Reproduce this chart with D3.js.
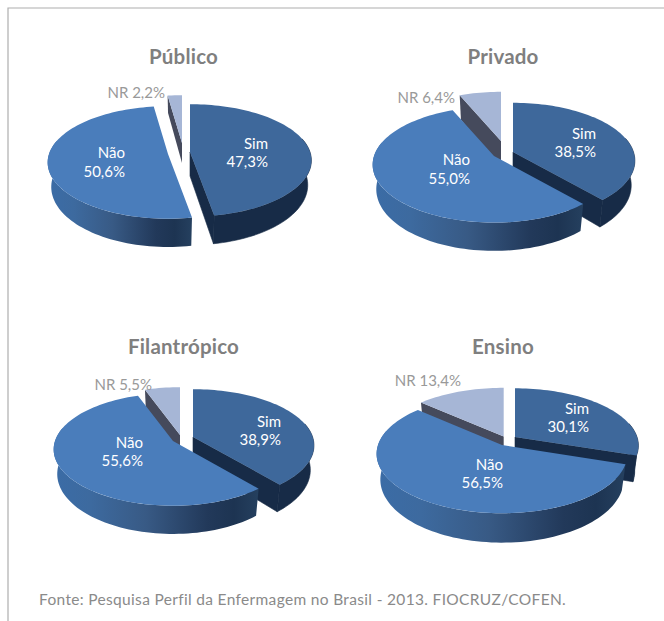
<!DOCTYPE html>
<html><head><meta charset="utf-8">
<script src="https://cdn.jsdelivr.net/npm/d3@7"></script>
<style>html,body{margin:0;padding:0;background:#fff}svg{display:block}text{font-family:Lato,sans-serif}</style>
</head><body><svg id="c" width="664" height="621"></svg>
<script>
const titles=["Público","Privado","Filantrópico","Ensino"];
const sliceNames=["Sim","Não","NR"];
const simValues=[47.3,38.5,38.9,30.1];
const naoValues=[50.6,55.0,55.6,56.5];
const nrValues=[2.2,6.4,5.5,13.4];
const source="Fonte: Pesquisa Perfil da Enfermagem no Brasil - 2013. FIOCRUZ/COFEN.";

// layout: per chart, per slice [apexX, apexY, radiusX]
const titleCenters=[[183.5,64],[503,64],[183.5,354],[503,354]];
const apexes=[
 [[190,152,120],[168,154,119],[182,143,120]],
 [[513,152,120.5],[494,156,120],[501,141,120]],
 [[193,437,119.6],[173,441,118],[180,435,118]],
 [[515,437,122],[502,445,124],[503.7,436.5,122]]
];
const radiiY=[55,56.6,55,[56,58,56]];
const tilt=0.15, wallDepth=[24,24,24,25], nrDepth=[20,28,28,28], baseShrink=0.97;
const labelAnchors=[
 [[268,149,167],[125,158,177],[165,98]],
 [[596,139,157],[470,165,184],[455,103]],
 [[281,427,445],[143,448,466],[152,390]],
 [[589,414,432],[503,470,488],[461,386]]
];
const colTop=["#3e689b","#4a7dbb","#a6b6d6"], colSimWall="#172b47", colNrWall="#454a5c";

const svg=d3.select("#c");
const defs=svg.append("defs");
const wallGrad=defs.append("linearGradient").attr("id","wall");
[[0,"#3b6ca6"],[.18,"#3d6a9f"],[.45,"#385a85"],[.75,"#22395a"],[.88,"#1d3452"],[1,"#25405f"]]
 .forEach(s=>wallGrad.append("stop").attr("offset",s[0]).attr("stop-color",s[1]));

svg.append("path").attr("d","M8,621V8H664").attr("fill","none").attr("stroke","#aeaeae").attr("stroke-width",1.2);

const comma=d3.formatLocale({decimal:",",thousands:".",grouping:[3],currency:["R$",""]}).format(".1f");
const pie=d3.pie().sort(null);
const line=d3.line().x(d=>d[0]).y(d=>d[1]);
const angleStep=Math.PI/90;

titles.forEach((title,i)=>{
  const g=svg.append("g");
  const vals=[simValues[i],naoValues[i],nrValues[i]];
  const arcs=pie(vals);
  const project=(a,k,z)=>{
    const [cx,cy,rx]=apexes[i][z.s];
    const ryv=Array.isArray(radiiY[i])?radiiY[i][z.s]:radiiY[i];
    const s=1/(1+tilt*k*Math.cos(a));
    const sh=z.d>0?baseShrink:1;
    return [cx+rx*k*Math.sin(a)*s*sh, cy-ryv*k*Math.cos(a)*s+z.d*s];
  };
  const arcPts=(a0,a1,z)=>{
    const n=Math.max(2,Math.ceil((a1-a0)/angleStep));
    return d3.range(n+1).map(j=>project(a0+(a1-a0)*j/n,1,z));
  };
  [2,0,1].forEach(si=>{
    const a=arcs[si], topZ={s:si,d:0};
    const depth=si===2?nrDepth[i]:wallDepth[i];
    const baseZ={s:si,d:depth};
    if(si===0){
      const e=a.endAngle;
      g.append("path").attr("d",line([project(e,0,topZ),project(e,1,topZ),project(e,1,baseZ),project(e,0,baseZ)])+"Z")
       .attr("fill",colSimWall).attr("stroke",colSimWall).attr("stroke-width",.6);
    }
    if(si===2){
      const e=a.startAngle;
      g.append("path").attr("d",line([project(e,0,topZ),project(e,1,topZ),project(e,1,baseZ),project(e,0,baseZ)])+"Z").attr("fill",colNrWall);
    }
    if(si!==2){
      const f0=Math.max(a.startAngle,Math.PI/2-0.25), f1=Math.min(a.endAngle,3*Math.PI/2+0.25);
      if(f1>f0){
        const pts=arcPts(f0,f1,topZ).concat(arcPts(f0,f1,baseZ).reverse());
        g.append("path").attr("d",line(pts)+"Z")
         .attr("fill",si===1?"url(#wall)":colSimWall)
         .attr("stroke",si===1?"none":colSimWall).attr("stroke-width",.6);
      }
    }
    const top=[project(a.startAngle,0,topZ)].concat(arcPts(a.startAngle,a.endAngle,topZ));
    g.append("path").attr("d",line(top)+"Z").attr("fill",colTop[si]);
  });
  g.append("text").attr("x",titleCenters[i][0]).attr("y",titleCenters[i][1])
   .attr("text-anchor","middle").attr("font-size",20.5).attr("font-weight",700)
   .attr("letter-spacing",.2).attr("fill","#7f7f7f").text(title);
  sliceNames.forEach((nm,si)=>{
    const la=labelAnchors[i][si], txt=comma(vals[si])+"%";
    if(si===2){
      g.append("text").attr("x",la[0]).attr("y",la[1]).attr("text-anchor","end")
       .attr("font-size",15).attr("fill","#999").text(nm+" "+txt);
    }else{
      g.append("text").attr("x",la[0]).attr("y",la[1]).attr("text-anchor","end").attr("font-size",15).attr("fill","#fff").text(nm);
      g.append("text").attr("x",la[0]).attr("y",la[2]).attr("text-anchor","end").attr("font-size",15).attr("fill","#fff").text(txt);
    }
  });
});
svg.append("text").attr("x",39).attr("y",605).attr("font-size",15.5).attr("letter-spacing",.33).attr("fill","#8a8a8a").text(source);
</script></body></html>
